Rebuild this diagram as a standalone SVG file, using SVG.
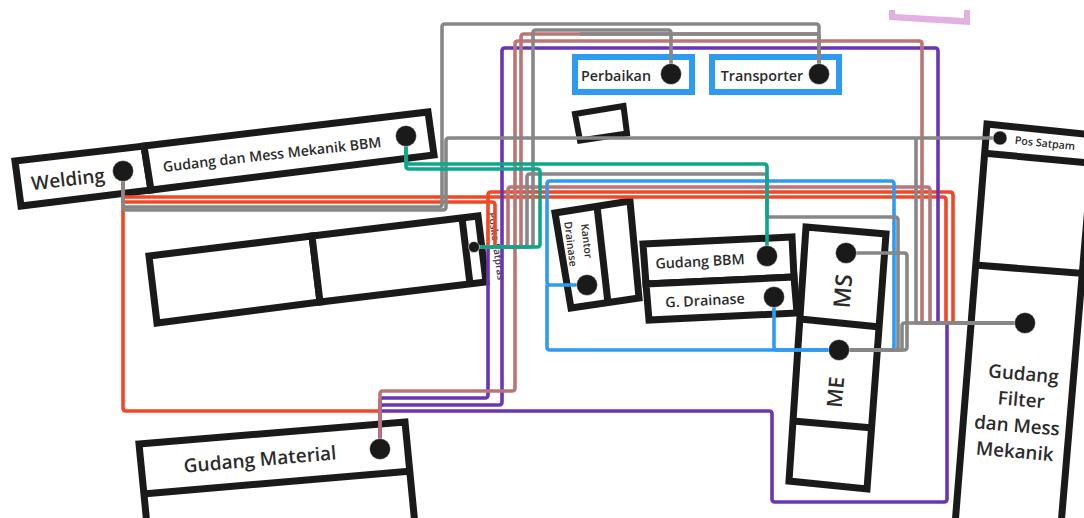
<svg xmlns="http://www.w3.org/2000/svg" width="1084" height="518" viewBox="0 0 1084 518">
<style>
.b{fill:none;stroke:#1a1a1a;stroke-width:7;stroke-linejoin:miter}
.w{fill:#fff}
.d{fill:#1a1a1a;stroke:#fff;stroke-width:.5}
.c{fill:none;stroke-width:3.6;stroke-linejoin:round}
.g{stroke:#878787}.r{stroke:#f24726}.p{stroke:#6a35b5}.o{stroke:#ba7676}.t{stroke:#0ca789}.u{stroke:#2d9bf0}
text{font-family:"Open Sans","Noto Sans",sans-serif;font-weight:600;fill:#2b2b2b;text-anchor:middle;dominant-baseline:central}
</style>
<rect width="1084" height="518" fill="#fff"/>
<g id="pink-shape"><polygon points="889,10 895,10 895,14 964,18 964,10 970,10 970,25 889,20" fill="#e2b1e2"/></g>
<g id="welding">
<polygon class="b w" points="15,161 144,146 151,190 21,206"/>
<text x="68" y="179" font-size="19" transform="rotate(-6.5 68 179)">Welding</text>
</g>
<g id="gudang-mess-bbm">
<polygon class="b w" points="144,146 428,112 434,155 151,190"/>
<text x="272" y="154" font-size="14.2" transform="rotate(-6.5 272 154)">Gudang dan Mess Mekanik BBM</text>
</g>
<g id="blok-tanpa-nama">
<polygon class="b w" points="149,256 312,236 320,302 157,323"/>
<polygon class="b w" points="312,236 478,216 486,282 320,302"/>
<line class="b" x1="462" y1="218" x2="470" y2="284"/>
<text x="497" y="246" font-size="10" transform="rotate(82 497 246)" style="fill:#3a3a4a">Posko Satpras</text>
</g>
<g id="kantor-drainase">
<polygon class="b w" points="555,213 630,201 639,298 571,308"/>
<line class="b" x1="597" y1="206" x2="608" y2="303"/>
<text x="587" y="241" font-size="10.5" transform="rotate(83 587 241)">Kantor</text>
<text x="571" y="244" font-size="10.5" transform="rotate(83 571 244)">Drainase</text>
</g>
<g id="gudang-bbm">
<polygon class="b w" points="643,244 792,237 794,277 646,284"/>
<text x="700" y="261" font-size="14.3" transform="rotate(-3 700 261)">Gudang BBM</text>
</g>
<g id="g-drainase">
<polygon class="b w" points="646,284 794,277 797,313 649,320"/>
<text x="705" y="300" font-size="14.3" transform="rotate(-3 705 300)">G. Drainase</text>
</g>
<g id="ms-me">
<polygon class="b w" points="806,227 886,234 867,489 789,481"/>
<line class="b" x1="800" y1="319" x2="880" y2="327"/>
<line class="b" x1="793" y1="421" x2="873" y2="428"/>
<text x="842" y="291" font-size="23" transform="rotate(-85 842 291)">MS</text>
<text x="835" y="392" font-size="21" transform="rotate(-85 835 392)">ME</text>
</g>
<g id="gudang-filter">
<polygon class="b w" points="987,124 1094,135 1061,525 955,525"/>
<line class="b" x1="982" y1="153" x2="1090" y2="163"/>
<line class="b" x1="975" y1="265" x2="1090" y2="274"/>
<text x="1045" y="143" font-size="10.7" transform="rotate(6 1045 143)">Pos Satpam</text>
<g font-size="18.8" transform="rotate(5 1018 414)">
<text x="1020" y="373">Gudang</text>
<text x="1020" y="399">Filter</text>
<text x="1018" y="425">dan Mess</text>
<text x="1018" y="451">Mekanik</text>
</g>
</g>
<g id="gudang-material">
<polygon class="b w" points="139,444 405,422 415,525 147,525"/>
<line class="b" x1="143" y1="494" x2="412" y2="471"/>
<text x="260" y="459" font-size="19" transform="rotate(-5 260 459)">Gudang Material</text>
</g>
<g id="perbaikan">
<rect x="575" y="57" width="117" height="35" fill="#fff" stroke="#2d9bf0" stroke-width="6"/>
<text x="616" y="75" font-size="14.3">Perbaikan</text>
</g>
<g id="transporter">
<rect x="712" y="57" width="127" height="35" fill="#fff" stroke="#2d9bf0" stroke-width="6"/>
<text x="762" y="75" font-size="14.3">Transporter</text>
</g>
<g id="kotak-kecil"><polygon class="b w" style="stroke-width:6" points="575,114 623.5,106 627,133.5 580,140.5"/></g>
<g id="connectors">
<path class="c r" d="M123 171V408Q123 411 126 411H380V449"/>
<path class="c r" d="M123 197H943Q946 197 946 200V323H1025"/>
<path class="c r" d="M123 202H492Q495 202 495 205V244Q495 247 492 247H474"/>
<path class="c r" d="M474 247H485Q488 247 488 244V195Q488 192 491 192H950Q953 192 953 195V323H1025"/>
<path class="c p" d="M474 247H488V395Q488 398 485 398H383Q380 398 380 401V449"/>
<path class="c p" d="M1025 323H938V51Q938 48 935 48H505Q502 48 502 51V402Q502 405 499 405H383Q380 405 380 408V449"/>
<path class="c p" d="M380 411H769Q772 411 772 414V499Q772 502 775 502H944Q947 502 947 499V323H1025"/>
<path class="c o" d="M1025 323H922V44Q922 41 919 41H518Q515 41 515 44V388Q515 391 512 391H383Q380 391 380 394V449"/>
<path class="c o" d="M819 74V37Q819 34 816 34H524Q521 34 521 37V244Q521 247 518 247H474"/>
<path class="c o" d="M1025 323H930V190Q930 187 927 187H511Q508 187 508 190V244Q508 247 505 247H474"/>
<path class="c u" d="M587 285H550Q547 285 547 282V184Q547 181 550 181H891Q894 181 894 184V347Q894 350 891 350H550Q547 350 547 347V285"/>
<path class="c u" d="M774 297V347Q774 350 777 350H839"/>
<path class="c g" d="M819 74V27Q819 24 816 24H445Q442 24 442 27V204Q442 207 439 207H126Q123 207 123 204V171"/>
<path class="c g" d="M1000 138H449Q446 138 446 141V207Q446 210 443 210H126Q123 210 123 207"/>
<path class="c g" d="M916 138V323H1025"/>
<path class="c g" d="M671 74V33Q671 30 668 30H536Q533 30 533 33V244Q533 247 530 247H474"/>
<path class="c g" d="M580 34H819"/>
<path class="c g" d="M474 247H524Q527 247 527 244V177Q527 174 530 174H764Q767 174 767 177V217H895Q898 217 898 220V347Q898 350 895 350H839"/>
<path class="c g" d="M846 253H904Q907 253 907 256V347Q907 350 904 350H839"/>
<path class="c g" d="M1025 323H905Q902 323 902 326V350H839"/>
<path class="c t" d="M406 136V166Q406 169 409 169H537Q540 169 540 172V244Q540 247 537 247H474"/>
<path class="c t" d="M406 136V161Q406 164 409 164H764Q767 164 767 167V256"/>
</g>
<g id="titik">
<circle class="d" cx="123" cy="171" r="10.5"/>
<circle class="d" cx="406" cy="136" r="10.5"/>
<circle class="d" cx="474" cy="247" r="5.5"/>
<circle class="d" cx="587" cy="285" r="10.5"/>
<circle class="d" cx="767" cy="256" r="10.5"/>
<circle class="d" cx="774" cy="297" r="10.5"/>
<circle class="d" cx="846" cy="253" r="10.5"/>
<circle class="d" cx="839" cy="350" r="10.5"/>
<circle class="d" cx="1000" cy="138" r="7"/>
<circle class="d" cx="1025" cy="323" r="10.5"/>
<circle class="d" cx="380" cy="449" r="10.5"/>
<circle class="d" cx="671" cy="74" r="10.5"/>
<circle class="d" cx="819" cy="74" r="10.5"/>
</g>
</svg>
